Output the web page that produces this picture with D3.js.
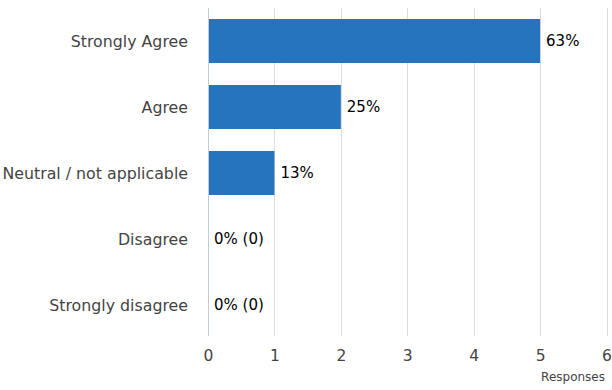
<!DOCTYPE html>
<html>
<head>
<meta charset="utf-8">
<script src="https://cdn.jsdelivr.net/npm/d3@7"></script>
<style>
  body { margin: 0; background: #fff; }
  svg { display: block; font-family: "DejaVu Sans", sans-serif; }
</style>
</head>
<body>
<svg id="chart" width="612" height="390"></svg>
<script>
// survey responses
var categories = ['Strongly Agree', 'Agree', 'Neutral / not applicable', 'Disagree', 'Strongly disagree'];
var responses = [5, 2, 1, 0, 0];
var percentLabels = ['63%', '25%', '13%', '0% (0)', '0% (0)'];
var xTicks = [0, 1, 2, 3, 4, 5, 6];

var svg = d3.select('#chart');
var plotLeft = 208, plotRight = 606.5, plotTop = 8, plotBottom = 338;

var x = d3.scaleLinear().domain([0, 6]).range([plotLeft, plotRight]);
var y = d3.scaleBand().domain(categories).range([plotTop, plotBottom])
  .paddingInner(0.333).paddingOuter(0.1667);

// grid lines
svg.append('g')
  .selectAll('line')
  .data(xTicks.slice(1))
  .enter().append('line')
  .attr('x1', function(d) { return Math.round(x(d)) + 0.5; })
  .attr('x2', function(d) { return Math.round(x(d)) + 0.5; })
  .attr('y1', plotTop)
  .attr('y2', plotBottom - 2)
  .attr('stroke', '#dcdcdc')
  .attr('stroke-width', 1);

// bars
svg.append('g')
  .selectAll('rect')
  .data(responses)
  .enter().append('rect')
  .attr('x', x(0))
  .attr('y', function(d, i) { return y(categories[i]); })
  .attr('width', function(d) { return x(d) - x(0); })
  .attr('height', y.bandwidth())
  .attr('fill', '#2574bd');

// value axis line
svg.append('line')
  .attr('x1', x(0) + 0.5).attr('x2', x(0) + 0.5)
  .attr('y1', plotTop).attr('y2', plotBottom - 2)
  .attr('stroke', '#c3cad8');

// category labels
svg.append('g')
  .selectAll('text')
  .data(categories)
  .enter().append('text')
  .attr('x', plotLeft - 20)
  .attr('y', function(d) { return y(d) + y.bandwidth() / 2; })
  .attr('dy', '0.35em')
  .attr('text-anchor', 'end')
  .attr('font-size', 15.8)
  .attr('fill', '#444')
  .text(function(d) { return d; });

// data labels
svg.append('g')
  .selectAll('text')
  .data(responses)
  .enter().append('text')
  .attr('x', function(d) { return x(d) + 6; })
  .attr('y', function(d, i) { return y(categories[i]) + y.bandwidth() / 2; })
  .attr('dy', '0.35em')
  .attr('font-size', 15)
  .attr('font-weight', 500)
  .attr('fill', '#000')
  .text(function(d, i) { return percentLabels[i]; });

// x axis
var axis = svg.append('g')
  .attr('transform', 'translate(0,' + plotBottom + ')')
  .call(d3.axisBottom(x).tickValues(xTicks).tickFormat(d3.format('d')).tickSize(0).tickPadding(12));
axis.select('.domain').remove();
axis.selectAll('text')
  .attr('font-size', 15.5)
  .attr('font-family', '"DejaVu Sans", sans-serif')
  .attr('fill', '#444');

svg.append('text')
  .attr('x', 605)
  .attr('y', 381)
  .attr('text-anchor', 'end')
  .attr('font-size', 12)
  .attr('fill', '#444')
  .text('Responses');
</script>
</body>
</html>
